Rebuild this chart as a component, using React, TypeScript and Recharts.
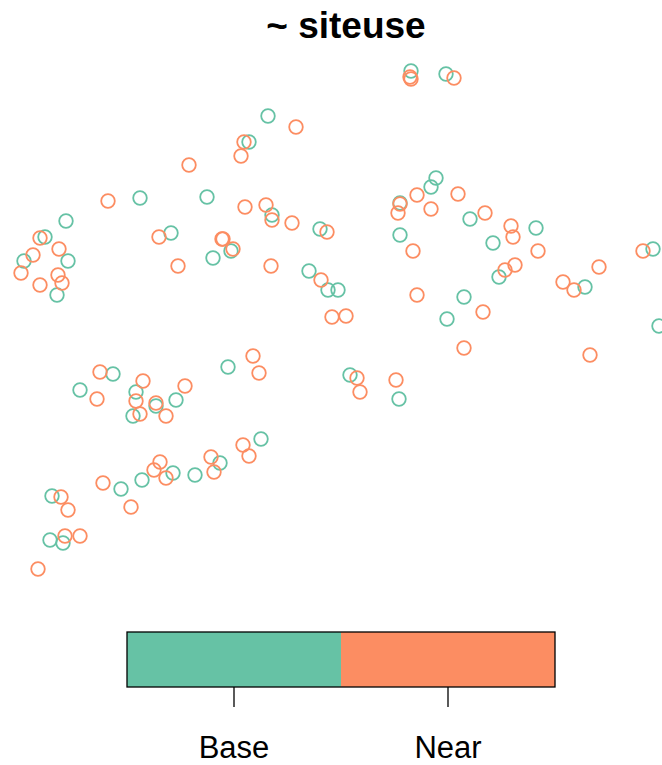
import React from "react";
import { ScatterChart, Scatter, XAxis, YAxis, ZAxis } from "recharts";

// point positions (chart units = pixels, y downwards)
const baseX = [411, 446, 268, 249, 140, 207, 66, 45, 24, 68, 57, 171, 213, 436, 431, 400, 400, 272, 320, 231, 309, 328, 338, 470, 536, 493, 499, 585, 653, 464, 447, 659, 113, 80, 136, 156, 176, 133, 228, 220, 173, 195, 142, 121, 52, 50, 63, 350, 399, 261];
const baseY = [71, 74, 116, 142, 198, 197, 221, 237, 261, 261, 295, 233, 258, 178, 187, 203, 235, 215, 229, 251, 271, 290, 290, 219, 228, 243, 277, 287, 249, 297, 319, 326, 374, 390, 392, 406, 400, 416, 367, 463, 473, 475, 480, 489, 496, 540, 543, 375, 399, 439];

const nearX = [410, 411, 454, 189, 108, 159, 40, 59, 33, 21, 58, 62, 40, 178, 222, 296, 244, 241, 417, 431, 400, 398, 413, 417, 245, 266, 272, 292, 327, 223, 233, 271, 321, 332, 346, 458, 485, 511, 513, 538, 515, 505, 599, 563, 574, 643, 483, 464, 590, 100, 97, 143, 136, 156, 185, 140, 166, 211, 214, 160, 154, 166, 103, 131, 61, 68, 65, 80, 38, 253, 259, 357, 360, 396, 243, 249];
const nearY = [77, 79, 78, 165, 201, 237, 238, 249, 255, 273, 275, 283, 285, 266, 239, 127, 142, 156, 195, 209, 204, 213, 251, 295, 207, 205, 220, 223, 232, 239, 249, 266, 280, 317, 316, 194, 213, 226, 237, 251, 265, 270, 267, 282, 290, 251, 312, 348, 355, 372, 399, 381, 401, 403, 386, 414, 416, 457, 472, 462, 470, 478, 483, 507, 497, 510, 536, 536, 569, 356, 373, 378, 392, 380, 445, 456];

const title = "~ siteuse";
const legendLabels = ["Base", "Near"];
const legendColors = ["#66C2A5", "#FC8D62"];

const W = 662;
const H = 765;

const toPoints = (xs: number[], ys: number[]) => xs.map((x, i) => ({ x, y: ys[i] }));

const ring = (color: string) => (props: any) =>
  <circle cx={props.cx} cy={props.cy} r={6.8} fill="none" stroke={color} strokeWidth={1.8} />;

export default function App() {
  const barLeft = 127;
  const barRight = 555;
  const barTop = 632;
  const barBottom = 687;
  const seg = (barRight - barLeft) / legendLabels.length;

  return (
    <div style={{ position: "fixed", left: 0, top: 0, width: W, height: H, background: "#fff" }}>
      <ScatterChart width={W} height={H} margin={{ top: 0, right: 0, bottom: 0, left: 0 }}>
        <XAxis type="number" dataKey="x" domain={[0, W]} hide />
        <YAxis type="number" dataKey="y" domain={[0, H]} reversed hide />
        <ZAxis range={[60, 60]} />
        <Scatter data={toPoints(baseX, baseY)} shape={ring(legendColors[0])} isAnimationActive={false} />
        <Scatter data={toPoints(nearX, nearY)} shape={ring(legendColors[1])} isAnimationActive={false} />
      </ScatterChart>
      <svg width={W} height={H} style={{ position: "absolute", left: 0, top: 0, pointerEvents: "none" }}>
        <text x={346} y={38} textAnchor="middle" fontFamily="Liberation Sans, Arial, sans-serif" fontWeight="bold" fontSize={37} fill="#000">
          {title}
        </text>
        {legendLabels.map((lab, i) => (
          <g key={lab}>
            <rect x={barLeft + i * seg} y={barTop} width={seg} height={barBottom - barTop} fill={legendColors[i]} />
            <line x1={barLeft + (i + 0.5) * seg} x2={barLeft + (i + 0.5) * seg} y1={barBottom} y2={barBottom + 20} stroke="#000" strokeWidth={1.3} />
            <text x={barLeft + (i + 0.5) * seg} y={758} textAnchor="middle" fontFamily="Liberation Sans, Arial, sans-serif" fontSize={31} fill="#000">
              {lab}
            </text>
          </g>
        ))}
        <rect x={barLeft} y={barTop} width={barRight - barLeft} height={barBottom - barTop} fill="none" stroke="#000" strokeWidth={1.3} />
      </svg>
    </div>
  );
}
